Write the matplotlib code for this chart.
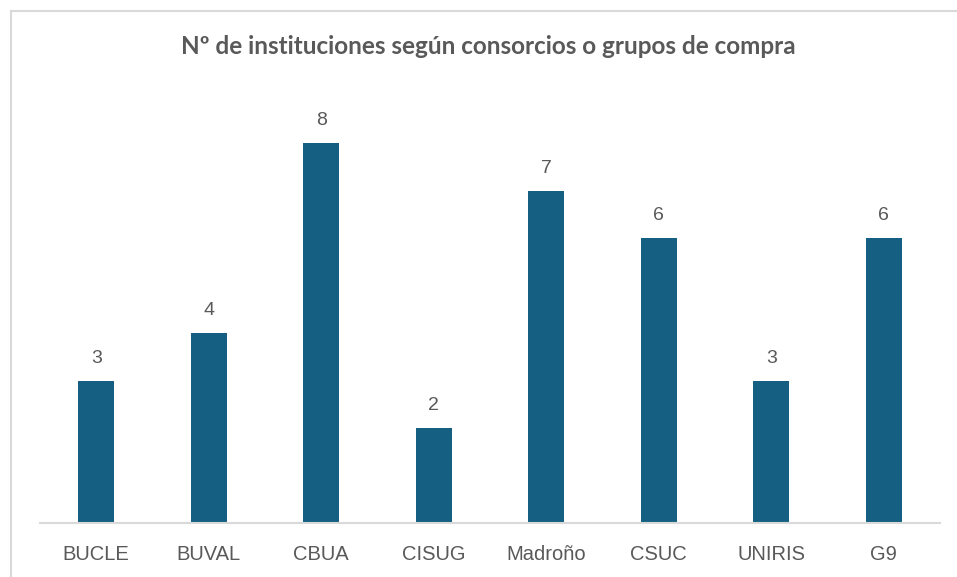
import matplotlib.pyplot as plt

categories = ['BUCLE', 'BUVAL', 'CBUA', 'CISUG', 'Madroño', 'CSUC', 'UNIRIS', 'G9']
values = [3, 4, 8, 2, 7, 6, 3, 6]
title = 'Nº de instituciones según consorcios o grupos de compra'

bar_color = '#156082'
text_color = '#595959'

fig = plt.figure(figsize=(9.57, 5.77), dpi=100)
ax = fig.add_axes([40 / 957, 54 / 577, 900 / 957, 427.5 / 577])

x = range(len(categories))
bars = ax.bar(x, values, width=0.32, color=bar_color)
ax.set_xlim(-0.5, len(categories) - 0.5)
ax.set_ylim(0, 9)

for rect, v in zip(bars, values):
    ax.annotate(str(v), (rect.get_x() + rect.get_width() / 2, v),
                xytext=(0, 10), textcoords='offset points', ha='center', va='bottom',
                fontsize=14, color=text_color, family='Liberation Sans')

ax.set_xticks(list(x))
ax.set_xticklabels(categories, fontsize=14.5, color=text_color, family='Liberation Sans')
ax.tick_params(axis='x', length=0, pad=16)
ax.set_yticks([])
for s in ['top', 'right', 'left']:
    ax.spines[s].set_visible(False)
ax.spines['bottom'].set_color('#D9D9D9')
ax.spines['bottom'].set_linewidth(1.5)

fig.text(488 / 957, 1 - 47 / 577, title, ha='center', va='center', fontsize=17.5,
         fontweight='bold', color=text_color, family='Lato')

# chart frame (left and top edges visible in the reference)
fig.add_artist(plt.Line2D([10.5 / 957, 10.5 / 957], [0, 1 - 11 / 577], color='#D9D9D9', lw=1.5))
fig.add_artist(plt.Line2D([10.5 / 957, 1], [1 - 11 / 577, 1 - 11 / 577], color='#D9D9D9', lw=1.5))

fig.savefig('out.png', dpi=100)
